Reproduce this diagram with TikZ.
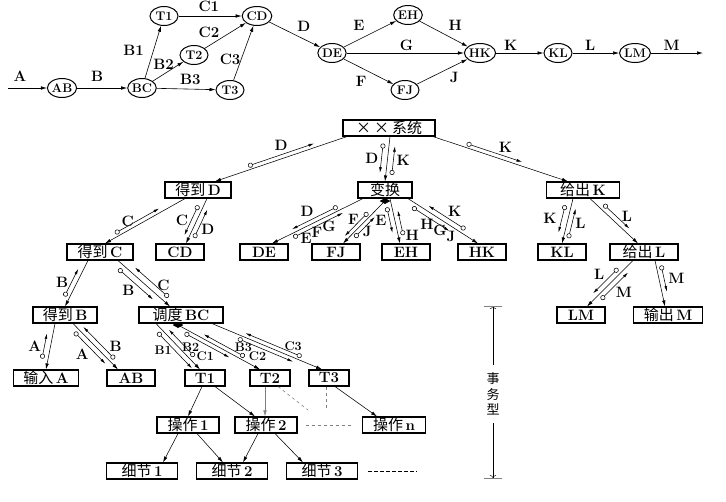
\documentclass[tikz,border=0pt]{standalone}
\usepackage{fontspec}
\newfontfamily\cjk{Noto Sans CJK SC}
\newcommand{\zh}[1]{{\cjk\mdseries #1}}
\usetikzlibrary{calc,arrows.meta,shapes.geometric}

\begin{document}
\begin{tikzpicture}[x=1pt, y=-1pt,
  bub/.style={ellipse, draw, line width=1pt, inner sep=0pt, minimum width=28pt, minimum height=19pt, font=\fontsize{12.5}{14}\selectfont\bfseries},
  box/.style={draw, line width=1.1pt, inner xsep=3pt, inner ysep=0pt, minimum height=16pt, minimum width=66pt, font=\fontsize{15}{17}\selectfont\bfseries},
  lbox/.style={box, minimum width=48pt},
  tbox/.style={box, minimum width=40pt},
  dbox/.style={box, minimum width=71pt},
  dia/.style={diamond, fill=black, inner sep=0pt, minimum width=11pt, minimum height=6pt},
  flow/.style={-{Latex[length=6pt,width=3.5pt]}, line width=0.6pt},
  call/.style={-{Latex[length=6pt,width=3.5pt]}, line width=0.55pt},
  couple/.style={{Circle[open,length=5pt,width=5pt]}-{Latex[length=5.5pt,width=2.8pt]}, line width=0.55pt},
  lbl/.style={font=\fontsize{15}{17}\selectfont\bfseries, inner sep=1pt},
  slbl/.style={font=\fontsize{12.5}{14}\selectfont\bfseries},
  gdash/.style={gray, dashed, line width=0.6pt}]

% Controls
\newcommand{\callline}[3][]{\draw[call,#1] #2 coordinate (la) -- #3 coordinate (lb);}
% couple beside the last call: from, to (fractions), side, label, label place
\newcommand{\dcouple}[5]{%
  \draw[couple] ($(la)!#1!(lb)!#3!90:(lb)$) -- ($(la)!#2!(lb)!#3!90:(lb)$)
    node[lbl, midway, #5] {#4};
}

\useasboundingbox (0,0) rectangle (726,501);

% Data flow diagram
\node[bub] (aAB) at (62,88) {AB};
\node[bub] (aBC) at (142,88) {BC};
\node[bub] (aT1) at (164,16) {T1};
\node[bub] (aT2) at (194,55) {T2};
\node[bub] (aT3) at (230,90) {T3};
\node[bub] (aCD) at (257,16) {CD};
\node[bub] (aDE) at (332,53) {DE};
\node[bub] (aEH) at (408,15) {EH};
\node[bub] (aFJ) at (405,90) {FJ};
\node[bub] (aHK) at (480,53) {HK};
\node[bub] (aKL) at (558,53) {KL};
\node[bub] (aLM) at (635,53) {LM};
\coordinate (aIn) at (8,88);
\coordinate (aOut) at (703,53);

\draw[flow] (aIn) -- node[lbl, pos=0.31, yshift=12pt] {A} (aAB);
\draw[flow] (aAB) -- node[lbl, pos=0.4, yshift=12pt] {B} (aBC);
\draw[flow] (aBC) -- node[lbl, pos=0.54, xshift=-20pt] {B1} (aT1);
\draw[flow] (aBC) -- node[lbl, pos=0.42, xshift=-2pt, yshift=9pt] {B2} (aT2);
\draw[flow] (aBC) -- node[lbl, pos=0.57, yshift=10pt] {B3} (aT3);
\draw[flow] (aT1) -- node[lbl, pos=0.48, yshift=10pt] {C1} (aCD);
\draw[flow] (aT2) -- node[lbl, pos=0.2, xshift=-4pt, yshift=11pt] {C2} (aCD);
\draw[flow] (aT3) -- node[lbl, pos=0.38, xshift=-11pt] {C3} (aCD);
\draw[flow] (aCD) -- node[lbl, pos=0.68, yshift=13pt] {D} (aDE);
\draw[flow] (aDE) -- node[lbl, pos=0.29, yshift=14pt] {E} (aEH);
\draw[flow] (aEH) -- node[lbl, pos=0.74, yshift=15pt] {H} (aHK);
\draw[flow] (aDE) -- node[lbl, pos=0.51, yshift=8pt] {G} (aHK);
\draw[flow] (aDE) -- node[lbl, pos=0.35, yshift=-14pt] {F} (aFJ);
\draw[flow] (aFJ) -- node[lbl, pos=0.74, yshift=-12pt] {J} (aHK);
\draw[flow] (aHK) -- node[lbl, pos=0.31, yshift=8pt] {K} (aKL);
\draw[flow] (aKL) -- node[lbl, pos=0.38, yshift=8pt] {L} (aLM);
\draw[flow] (aLM) -- node[lbl, pos=0.4, yshift=8pt] {M} (aOut);

% Structure chart
\node[box, minimum width=92pt] (sys) at (389,128) {\zh{×\hspace{3pt}×\hspace{3pt}系统}};
\node[box] (gD) at (198,190) {\zh{得到}\,D};
\node[box, minimum width=54pt] (bh) at (385,190) {\zh{变换}};
\node[box, minimum width=73pt] (gK) at (583,190) {\zh{给出}\,K};
\node[box] (gC) at (100,252) {\zh{得到}\,C};
\node[lbox] (CD) at (180,252) {CD};
\node[lbox] (DE) at (264,252) {DE};
\node[lbox] (FJ) at (336,252) {FJ};
\node[lbox] (EH) at (406,252) {EH};
\node[lbox] (HK) at (482,252) {HK};
\node[lbox] (KL) at (562,252) {KL};
\node[box, minimum width=68pt] (gL) at (644,252) {\zh{给出}\,L};
\node[box, minimum width=64pt] (gB) at (65,315) {\zh{得到}\,B};
\node[box, minimum width=84pt] (dBC) at (181,315) {\zh{调度}\,BC};
\node[lbox] (LM) at (581,315) {LM};
\node[box, minimum width=69pt] (outM) at (668,315) {\zh{输出}\,M};
\node[box, minimum width=65pt] (inA) at (46,378) {\zh{输入}\,A};
\node[lbox] (AB) at (131,378) {AB};
\node[tbox] (T1) at (205,378) {T1};
\node[tbox] (T2) at (270,378) {T2};
\node[tbox] (T3) at (329,378) {T3};
\node[box, minimum width=62pt] (op1) at (188,425) {\zh{操作}\,1};
\node[box, minimum width=62pt] (op2) at (266,425) {\zh{操作}\,2};
\node[box, minimum width=63pt] (opn) at (394,425) {\zh{操作}\,n};
\node[dbox] (dt1) at (142,471) {\zh{细节}\,1};
\node[dbox] (dt2) at (232,471) {\zh{细节}\,2};
\node[dbox] (dt3) at (322,471) {\zh{细节}\,3};
\node[dia] (dv) at (385,201) {};
\node[dia] (dd) at (178,325) {};

% Calls and couples
\callline{([xshift=-42pt]sys.south)}{([xshift=17pt]gD.north)}
\dcouple{0.74}{0.24}{-4pt}{D}{above=3pt}
\callline{([xshift=1pt]sys.south)}{(bh.north)}
\dcouple{0.17}{0.82}{-6pt}{D}{left=2pt}
\dcouple{0.84}{0.2}{6pt}{K}{right=2pt}
\callline{([xshift=44pt]sys.south)}{([xshift=-15pt]gK.north)}
\dcouple{0.24}{0.65}{4pt}{K}{pos=0.7, above=3pt}

\callline{([xshift=-13pt]gD.south)}{([xshift=5pt]gC.north)}
\dcouple{0.85}{0.30}{-4pt}{C}{left=2pt}
\callline{([xshift=9pt]gD.south)}{([xshift=6pt]CD.north)}
\dcouple{0.2}{0.86}{-5pt}{C}{left=2pt}
\dcouple{0.83}{0.2}{5pt}{D}{pos=0.3, right=2pt}

\callline{([xshift=-22pt]bh.south)}{([xshift=8pt]DE.north)}
\dcouple{0.26}{0.76}{-4pt}{D}{above left=0pt}
\dcouple{0.785}{0.24}{4pt}{E\raisebox{6pt}{F}\raisebox{12pt}{G}}{yshift=-7pt}
\callline{(dv.center)}{([xshift=7pt]FJ.north)}
\dcouple{0.34}{0.89}{-4pt}{F}{pos=0.3, left=1pt}
\dcouple{0.79}{0.31}{4pt}{J}{pos=0.3, right=1pt}
\callline{([xshift=5pt]bh.south)}{([xshift=-6pt]EH.north)}
\dcouple{0.17}{0.74}{-5pt}{E}{left=2pt}
\dcouple{0.84}{0.29}{5pt}{H}{pos=0, right=1pt}
\callline{([xshift=23pt]bh.south)}{([xshift=-4pt]HK.north)}
\dcouple{0.1}{0.63}{-5pt}{H\raisebox{-6pt}{G}\raisebox{-12pt}{J}}{xshift=7pt, yshift=-11pt}
\dcouple{0.78}{0.255}{5pt}{K}{above right=0pt}

\callline{([xshift=-10pt]gK.south)}{(KL.north)}
\dcouple{0.18}{0.785}{-6pt}{K}{left=4pt}
\dcouple{0.857}{0.2}{5pt}{L}{right=2pt}
\callline{([xshift=7pt]gK.south)}{([xshift=-6pt]gL.north)}
\dcouple{0.214}{0.75}{5pt}{L}{right=4pt}
\callline{([xshift=-11pt]gL.south)}{([xshift=6pt]LM.north)}
\dcouple{0.25}{0.79}{-5pt}{L}{above left=0pt}
\dcouple{0.77}{0.185}{5pt}{M}{below right=0pt}
\callline{([xshift=11pt]gL.south)}{([xshift=-3pt]outM.north)}
\dcouple{0.13}{0.70}{5pt}{M}{right=3pt}

\callline{([xshift=-12pt]gC.south)}{(gB.north)}
\dcouple{0.83}{0.23}{-5pt}{B}{left=2pt}
\callline{([xshift=18pt]gC.south)}{([xshift=-11pt]dBC.north)}
\dcouple{0.085}{0.75}{-6pt}{B}{below left=0pt}
\dcouple{0.895}{0.25}{6pt}{C}{pos=0.4, right=1pt}
\callline{([xshift=-10pt]gB.south)}{(inA.north)}
\dcouple{0.79}{0.24}{-6pt}{A}{left=2pt}
\callline{([xshift=8pt]gB.south)}{([xshift=-13pt]AB.north)}
\dcouple{0.11}{0.80}{-5pt}{A}{below left=0pt}
\dcouple{0.845}{0.15}{5pt}{B}{pos=0.2, above right=0pt}

\callline{([xshift=-25pt]dBC.south)}{([xshift=-5pt]T1.north)}
\dcouple{0.12}{0.9}{-5pt}{B1}{slbl, left=2pt}
\dcouple{0.79}{0.21}{5pt}{C1}{slbl, pos=0, right=1pt}
\callline{(dd.center)}{([xshift=-10pt]T2.north)}
\dcouple{0.105}{0.65}{-4pt}{B2}{slbl, pos=0.35, below left=0pt}
\dcouple{0.79}{0.29}{4pt}{C2}{slbl, pos=0, right=3pt}
\callline{([xshift=31pt]dBC.south)}{([xshift=-7pt]T3.north)}
\dcouple{0.25}{0.75}{-4pt}{B3}{slbl, pos=0.1, below=1pt}
\dcouple{0.80}{0.29}{4pt}{C3}{slbl, pos=0.15, above=1pt}

% Transaction levels
\draw[call] ([xshift=-3pt]T1.south) -- (op1.north);
\draw[call] ([xshift=10pt]T1.south) -- ([xshift=-11pt]op2.north);
\draw[call, gray] ([xshift=-5pt]T2.south) -- ([xshift=-1pt]op2.north);
\coordinate (t2x) at (308,410);
\draw[gdash] ([xshift=8pt]T2.south) -- (t2x);
\coordinate (t3x) at (326,410);
\draw[gdash] ([xshift=-3pt]T3.south) -- (t3x);
\draw[call] ([xshift=6pt]T3.south) -- ([xshift=-17pt]opn.north);
\draw[gdash] ([xshift=8pt]op2.east) -- ([xshift=-10pt]opn.west);
\draw[call] ([xshift=-10pt]op1.south) -- ([xshift=21pt]dt1.north);
\draw[call] ([xshift=9pt]op1.south) -- ([xshift=-9pt]dt2.north);
\draw[call] ([xshift=-8pt]op2.south) -- ([xshift=11pt]dt2.north);
\draw[call] ([xshift=9pt]op2.south) -- ([xshift=-19pt]dt3.north);
\coordinate (dtx) at (417,471);
\draw[dash pattern=on 4pt off 2pt, line width=0.6pt] ([xshift=10pt]dt3.east) -- (dtx);

% Span marker
\node[font=\cjk\fontsize{13}{15.5}\selectfont, align=center, inner xsep=0pt, inner ysep=8pt] (sw) at (493,394) {事\\务\\型};
\coordinate (swt) at (493,306);
\coordinate (swb) at (493,478);
\draw[-{To[length=3pt]}] (sw.north) -- (swt);
\draw[-{To[length=3pt]}] (sw.south) -- (swb);
\draw[gray] ([xshift=-9pt]swt) -- ([xshift=9pt]swt);
\draw[gray] ([xshift=-9pt]swb) -- ([xshift=9pt]swb);

\end{tikzpicture}
\end{document}
